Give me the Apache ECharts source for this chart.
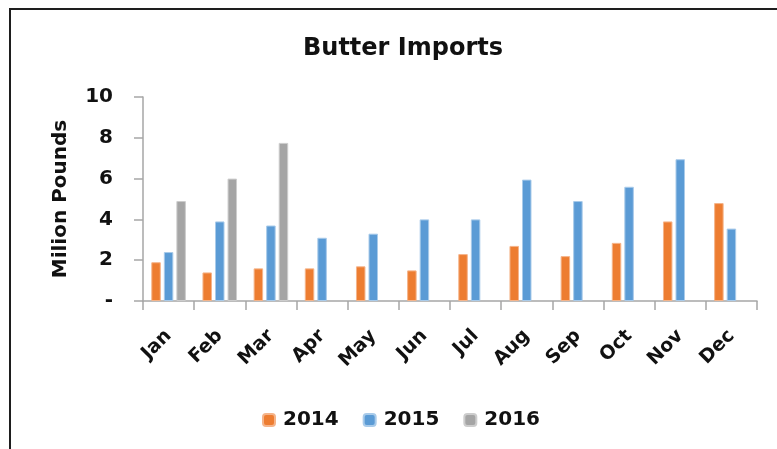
<!DOCTYPE html>
<html>
<head>
<meta charset="utf-8">
<script src="https://cdn.jsdelivr.net/npm/echarts@6/dist/echarts.min.js"></script>
<style>
  html, body { margin: 0; padding: 0; background: #fff; }
  #chart { position: absolute; left: 0; top: 0; width: 777px; height: 449px; }
  #frame { position: absolute; left: 9px; top: 8px; width: 790px; height: 460px;
           border-top: 2px solid #1e1e1e; border-left: 2px solid #1e1e1e; pointer-events: none; }
</style>
</head>
<body>
<div id="chart"></div>
<div id="frame"></div>
<script>
const titleText = 'Butter Imports';
const yAxisName = 'Milion Pounds';
const months = ['Jan', 'Feb', 'Mar', 'Apr', 'May', 'Jun', 'Jul', 'Aug', 'Sep', 'Oct', 'Nov', 'Dec'];
const seriesNames = ['2014', '2015', '2016'];
const v2014 = [1.9, 1.4, 1.6, 1.6, 1.7, 1.5, 2.3, 2.7, 2.2, 2.85, 3.9, 4.8];
const v2015 = [2.4, 3.9, 3.7, 3.1, 3.3, 4.0, 4.0, 5.95, 4.9, 5.6, 6.95, 3.55];
const v2016 = [4.9, 6.0, 7.75, null, null, null, null, null, null, null, null, null];
const yTicks = [0, 2, 4, 6, 8, 10];

const FONT = 'DejaVu Sans';
const colors = ['#ED7D31', '#5B9BD5', '#A5A5A5'];
const borders = ['#F5B48A', '#A9CBEA', '#CDCDCD'];
const axisColor = '#A6A6A6';

const chart = echarts.init(document.getElementById('chart'), null, { renderer: 'canvas' });
const values = [v2014, v2015, v2016];

chart.setOption({
  animation: false,
  title: {
    text: titleText,
    left: 398,
    textAlign: 'center',
    top: 32,
    textStyle: { fontFamily: FONT, fontWeight: 'bold', fontSize: 24, color: '#111' }
  },
  legend: {
    data: seriesNames,
    left: 257,
    top: 405,
    itemWidth: 12,
    itemHeight: 12,
    itemGap: 24,
    textStyle: { fontFamily: FONT, fontWeight: 'bold', fontSize: 20, color: '#111', padding: [0, 0, 0, 3] }
  },
  grid: { left: 143, right: 20, top: 97, bottom: 148, containLabel: false },
  xAxis: {
    type: 'category',
    data: months,
    axisLine: { lineStyle: { color: axisColor, width: 1.5 } },
    axisTick: { show: true, length: 9, lineStyle: { color: axisColor, width: 1.5 } },
    axisLabel: {
      rotate: 45, margin: 32, interval: 0,
      fontFamily: FONT, fontWeight: 'bold', fontSize: 19, color: '#111'
    },
    splitLine: { show: false }
  },
  yAxis: {
    type: 'value',
    min: yTicks[0],
    max: yTicks[yTicks.length - 1],
    interval: 2,
    name: yAxisName,
    nameLocation: 'middle',
    nameGap: 72,
    nameRotate: 90,
    nameTextStyle: { fontFamily: FONT, fontWeight: 'bold', fontSize: 20, color: '#111' },
    axisLine: { show: true, lineStyle: { color: axisColor, width: 1.5 } },
    axisTick: { show: true, length: 9, lineStyle: { color: axisColor, width: 1.5 } },
    axisLabel: {
      margin: 30,
      fontFamily: FONT, fontWeight: 'bold', fontSize: 20, color: '#111',
      formatter: function (v) { return v === 0 ? '-' : String(v); }
    },
    splitLine: { show: false }
  },
  series: seriesNames.map(function (name, i) {
    return {
      name: name,
      type: 'bar',
      data: values[i],
      barWidth: 9.5,
      barGap: '32%',
      itemStyle: { color: colors[i], borderColor: borders[i], borderWidth: 1 }
    };
  })
});
</script>
</body>
</html>
